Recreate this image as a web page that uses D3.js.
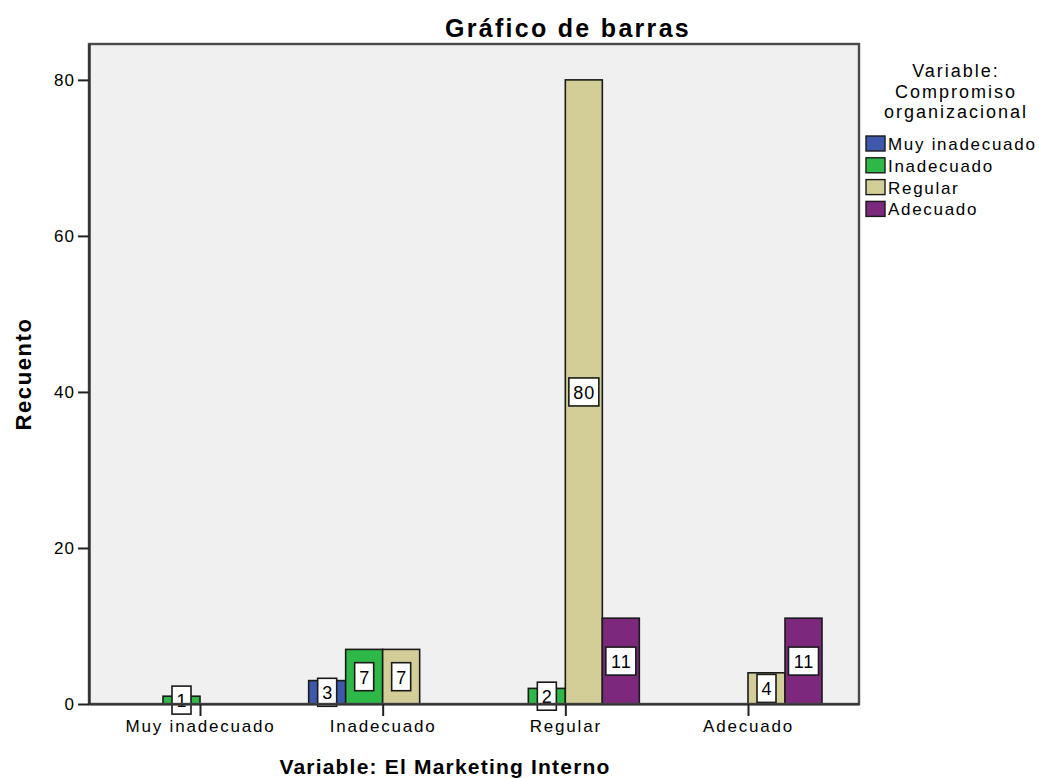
<!DOCTYPE html>
<html>
<head>
<meta charset="utf-8">
<script src="https://cdn.jsdelivr.net/npm/d3@7"></script>
<style>
  html, body { margin: 0; padding: 0; background: #fff; }
  svg { display: block; }
  text { font-family: "Liberation Sans", Arial, sans-serif; fill: #000; }
</style>
</head>
<body>
<svg id="chart" width="1039" height="778"></svg>
<script>
// Categories of "El Marketing Interno" (x axis)
const categories = ["Muy inadecuado", "Inadecuado", "Regular", "Adecuado"];
// Series: levels of "Compromiso organizacional"
const seriesNames = ["Muy inadecuado", "Inadecuado", "Regular", "Adecuado"];
const seriesColors = ["#3e58ac", "#2eb848", "#d3ce97", "#7c287d"];
// Counts per category, one array per series
const muyInadecuadoCounts = [0, 3, 0, 0];
const inadecuadoCounts    = [1, 7, 2, 0];
const regularCounts       = [0, 7, 80, 4];
const adecuadoCounts      = [0, 0, 11, 11];
const yTicks = [0, 20, 40, 60, 80];

const seriesValues = [muyInadecuadoCounts, inadecuadoCounts, regularCounts, adecuadoCounts];

const svg = d3.select("#chart");
const plot = { left: 89, right: 859, top: 44, bottom: 704 };

const x = d3.scalePoint()
  .domain(categories)
  .range([plot.left, plot.right])
  .padding(0.6077);

const xInner = d3.scaleBand()
  .domain(seriesNames)
  .range([-74, 74])
  .padding(0);

const y = d3.scaleLinear()
  .domain([0, 84.6])
  .range([plot.bottom, plot.top]);

// plot background
svg.append("rect")
  .attr("x", plot.left).attr("y", plot.top)
  .attr("width", plot.right - plot.left)
  .attr("height", plot.bottom - plot.top)
  .attr("fill", "#f0f0f0");

// flatten to bar records
const bars = [];
seriesNames.forEach((s, si) => {
  categories.forEach((c, ci) => {
    const v = seriesValues[si][ci];
    if (v > 0) bars.push({ series: s, cat: c, value: v, color: seriesColors[si] });
  });
});

const barG = svg.append("g");
barG.selectAll("rect")
  .data(bars)
  .join("rect")
  .attr("x", d => x(d.cat) + xInner(d.series))
  .attr("y", d => y(d.value))
  .attr("width", xInner.bandwidth())
  .attr("height", d => y(0) - y(d.value))
  .attr("fill", d => d.color)
  .attr("stroke", "#1a1a1a")
  .attr("stroke-width", 1.6);

// value labels in white boxes at bar mid-height
const labelG = svg.append("g");
bars.forEach(d => {
  const cx = x(d.cat) + xInner(d.series) + xInner.bandwidth() / 2;
  const cy = y(d.value / 2);
  const g = labelG.append("g");
  g.append("text")
    .attr("x", cx + 0.5).attr("y", cy + 7)
    .attr("text-anchor", "middle")
    .attr("font-size", 18).attr("letter-spacing", 1)
    .text(d.value);
  const w = String(d.value).length === 1 ? 19 : 30;
  g.insert("rect", "text")
    .attr("x", cx - w / 2).attr("y", cy - 14)
    .attr("width", w).attr("height", 28)
    .attr("fill", "#fff")
    .attr("stroke", "#1a1a1a")
    .attr("stroke-width", 1.6);
});

// frame
svg.append("rect")
  .attr("x", plot.left).attr("y", plot.top)
  .attr("width", plot.right - plot.left)
  .attr("height", plot.bottom - plot.top)
  .attr("fill", "none")
  .attr("stroke", "#4a4a4a")
  .attr("stroke-width", 2.4);

// y axis
const yAxis = d3.axisLeft(y).tickValues(yTicks).tickSize(11).tickSizeOuter(0).tickPadding(3);
const yG = svg.append("g").attr("transform", `translate(${plot.left},0)`).call(yAxis);
yG.select(".domain").attr("stroke", "#333").attr("stroke-width", 2.4);
yG.selectAll(".tick line").attr("stroke", "#222").attr("stroke-width", 2);
yG.selectAll(".tick text")
  .attr("font-size", 17).attr("letter-spacing", 1)
  .attr("font-family", "Liberation Sans, Arial, sans-serif").attr("fill", "#000");

// x axis
const xAxis = d3.axisBottom(x).tickSize(12).tickSizeOuter(0).tickPadding(4);
const xG = svg.append("g").attr("transform", `translate(0,${plot.bottom})`).call(xAxis);
xG.select(".domain").attr("stroke", "#333").attr("stroke-width", 2);
xG.selectAll(".tick line").attr("stroke", "#222").attr("stroke-width", 2);
xG.selectAll(".tick text")
  .attr("font-size", 17).attr("letter-spacing", 1.8)
  .attr("font-family", "Liberation Sans, Arial, sans-serif").attr("fill", "#000");

// titles
svg.append("text")
  .attr("x", 568).attr("y", 37)
  .attr("text-anchor", "middle")
  .attr("font-size", 25).attr("font-weight", "bold").attr("letter-spacing", 2.3)
  .text("Gráfico de barras");

svg.append("text")
  .attr("x", 445).attr("y", 774)
  .attr("text-anchor", "middle")
  .attr("font-size", 21).attr("font-weight", "bold").attr("letter-spacing", 1.2)
  .text("Variable: El Marketing Interno");

svg.append("text")
  .attr("transform", `translate(31,${(plot.top + plot.bottom) / 2}) rotate(-90)`)
  .attr("text-anchor", "middle")
  .attr("font-size", 22).attr("font-weight", "bold").attr("letter-spacing", 1.6)
  .text("Recuento");

// legend
const legend = svg.append("g");
const legendTitle = ["Variable:", "Compromiso", "organizacional"];
legend.selectAll("text.lt")
  .data(legendTitle)
  .join("text")
  .attr("class", "lt")
  .attr("x", 956)
  .attr("y", (d, i) => 77 + i * 20.5)
  .attr("text-anchor", "middle")
  .attr("font-size", 18).attr("letter-spacing", 2)
  .text(d => d);

const item = legend.selectAll("g.item")
  .data(seriesNames)
  .join("g")
  .attr("class", "item")
  .attr("transform", (d, i) => `translate(866,${136 + i * 21.8})`);
item.append("rect")
  .attr("width", 19).attr("height", 15)
  .attr("fill", (d, i) => seriesColors[i])
  .attr("stroke", "#1a1a1a").attr("stroke-width", 1.4);
item.append("text")
  .attr("x", 22).attr("y", 14)
  .attr("font-size", 17).attr("letter-spacing", 1.7)
  .text(d => d);
</script>
</body>
</html>
